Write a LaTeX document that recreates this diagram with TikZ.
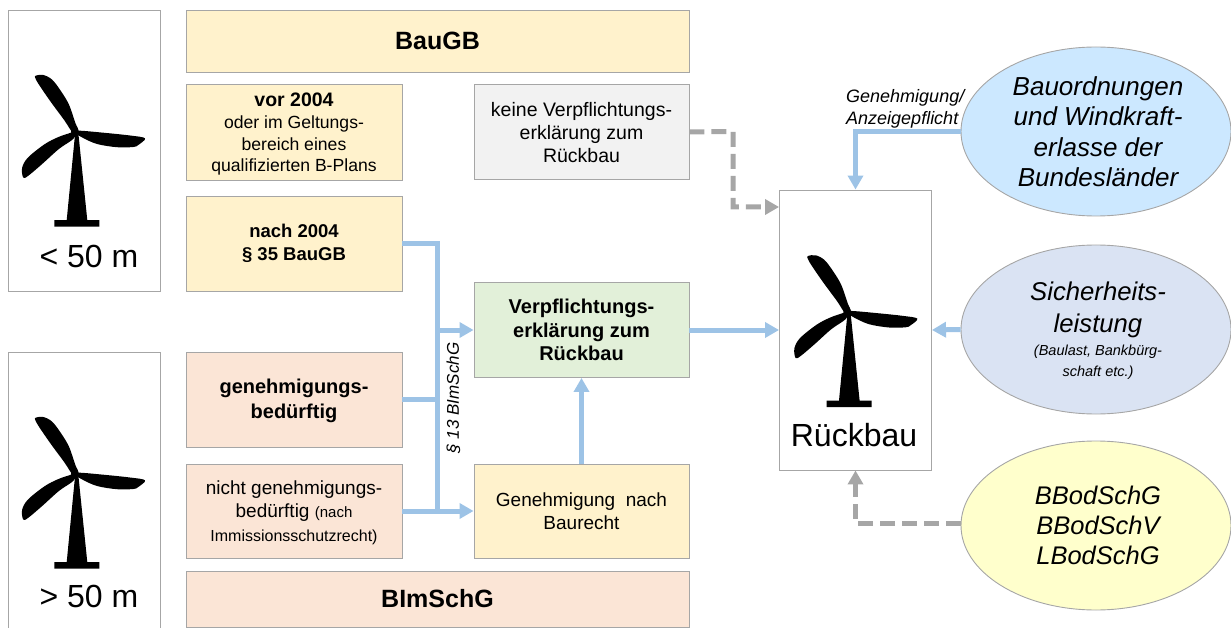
\documentclass[tikz,border=0pt]{standalone}
\usepackage{fontspec}
\setmainfont{Liberation Sans}
\usetikzlibrary{arrows.meta,shapes.geometric}
\definecolor{cyel}{HTML}{FFF2CC}
\definecolor{cpea}{HTML}{FBE5D6}
\definecolor{cgre}{HTML}{E2F0D9}
\definecolor{cgry}{HTML}{F2F2F2}
\definecolor{cedge}{HTML}{A6A6A6}
\definecolor{cblu}{HTML}{9DC3E6}
\definecolor{ce1}{HTML}{CCE8FF}
\definecolor{ce2}{HTML}{DAE3F3}
\definecolor{ce3}{HTML}{FFFFCC}
\newcommand{\fs}[1]{\fontsize{#1}{#1}\selectfont}
\newcommand{\fsl}[2]{\fontsize{#1}{#2}\selectfont}
\newcommand{\sh}{\hspace*{4pt}}
\tikzset{
 boxn/.style={draw=cedge,line width=0.9pt,align=center,inner sep=0pt,text=black},
 ell/.style={ellipse,draw=cedge,line width=0.9pt,minimum width=270pt,minimum height=169pt,align=center,inner sep=0pt},
 bluearrow/.style={draw=cblu,line width=5pt,-{Triangle[length=14pt,width=15pt]}},
 blueline/.style={draw=cblu,line width=5pt},
 greyarrow/.style={draw=cedge,line width=5pt,dash pattern=on 15pt off 7pt,-{Triangle[length=14pt,width=15pt]}},
 turbine/.pic={
  \fill[black] plot[smooth cycle,tension=0.55] coordinates {(-39.3,-55) (-31.7,-55.7) (-22.8,-51) (-14,-39.5) (-6,-26) (0.5,-7.4) (3.3,-0.7) (-1.7,2.6) (-10.5,-10.2) (-24,-28.5) (-35.5,-45.2) (-39.6,-52.4)};
  \fill[black] plot[smooth cycle,tension=0.55] coordinates {(70,7.6) (55,4.8) (28.3,2) (5,0) (-1,1) (6.7,6.5) (21.7,13.2) (41.7,16.5) (58.3,16.3) (63.3,14.3)};
  \fill[black] plot[smooth cycle,tension=0.55] coordinates {(-51.7,47) (-52.9,37.3) (-47.2,27) (-30.5,13.6) (-17,6.5) (-5,2.3) (1,0) (-1.5,8) (-16,18.2) (-32.7,33.2) (-46.4,44.8)};
  \fill[black] (0,1) circle (4);
  \fill[black] (0,4) -- (3.5,4) -- (12.3,89.5) -- (24.3,89.5) -- (24.3,96) -- (-20.7,96) -- (-20.7,89.5) -- (-8.3,89.5) -- cycle;
 }
}
\begin{document}
\begin{tikzpicture}[x=1pt,y=-1pt]
\useasboundingbox (0,0) rectangle (1231,628);
\clip (0,0) rectangle (1231,628);
% turbine frames
\node[boxn,minimum width=152pt,minimum height=281pt] (t1) at (84,150.5) {};
\node[boxn,minimum width=152pt,minimum height=290pt] (t2) at (84,497) {};
\pic at (75,130.7) {turbine};
\pic at (75,472.7) {turbine};
\node[inner sep=0pt,font=\fs{32}] (l1) at (89,256) {< 50 m};
\node[inner sep=0pt,font=\fs{32}] (l2) at (89,596) {> 50 m};
% boxes
\node[boxn,fill=cyel,minimum width=503pt,minimum height=62pt,font=\fs{25}\bfseries] (baugb) at (437.5,41) {\raisebox{1pt}{BauGB}};
\node[boxn,fill=cyel,minimum width=216pt,minimum height=96pt,font=\fsl{17.6}{21.7}] (vor) at (294,132) {\rule{0pt}{18pt}{\fs{19.5}\bfseries vor 2004}\\oder im Geltungs-\\bereich eines\\qualifizierten B-Plans};
\node[boxn,fill=cyel,minimum width=216pt,minimum height=95pt,font=\fsl{18.5}{23}\bfseries] (nach) at (294,243.5) {nach 2004\\§ 35 BauGB};
\node[boxn,fill=cpea,minimum width=216pt,minimum height=95pt,font=\fsl{20}{25}\bfseries] (gen) at (294,399.5) {\rule{0pt}{18pt}genehmigungs-\\bedürftig};
\node[boxn,fill=cpea,minimum width=216pt,minimum height=94pt,font=\fsl{19}{23.5}] (nicht) at (294,511) {\rule{0pt}{16.5pt}nicht genehmigungs-\\bedürftig {\fs{15}(nach}\\{\fs{16}Immissionsschutzrecht)}};
\node[boxn,fill=cpea,minimum width=503pt,minimum height=56pt,font=\fs{25}\bfseries] (bim) at (437.5,599) {\raisebox{-2pt}{BImSchG}};
\node[boxn,fill=cgry,minimum width=215pt,minimum height=95pt,font=\fsl{19.5}{23}] (keine) at (581.5,132) {\rule{0pt}{15pt}keine Verpflichtungs-\\erklärung zum\\Rückbau};
\node[boxn,fill=cgre,minimum width=215pt,minimum height=95pt,font=\fsl{20}{23.5}\bfseries] (verp) at (581.5,330) {Verpflichtungs-\\erklärung zum\\Rückbau};
\node[boxn,fill=cyel,minimum width=215pt,minimum height=94pt,font=\fsl{19}{23.5}] (bau) at (581.5,511) {Genehmigung\ \ nach\\Baurecht};
\node[boxn,minimum width=152pt,minimum height=280pt] (rb) at (855.5,330) {};
\pic at (847.3,311) {turbine};
\node[inner sep=0pt,font=\fs{32}] (rbl) at (854,435) {Rückbau};
% ellipses
\node[ell,fill=ce1,font=\fsl{26}{30.5}\itshape] (e1) at (1096,131.5) {\sh Bauordnungen\\\sh und Windkraft-\\\sh erlasse der\\\sh Bundesländer};
\node[ell,fill=ce2,font=\fsl{25.7}{32}\itshape] (e2) at (1096,329.5) {\sh\rule{0pt}{21pt}Sicherheits-\\\sh leistung\\[-9pt]\sh{\fs{14.5}(Baulast, Bankbürg-}\\[-11pt]\sh{\fs{14.5}schaft etc.)}};
\node[ell,fill=ce3,font=\fsl{25.5}{30}\itshape] (e3) at (1096,525.5) {\sh BBodSchG\\\sh BBodSchV\\\sh LBodSchG};
% connector junction points
\coordinate (jt) at (437,243.5);
\coordinate (jb) at (437,511);
\draw[blueline] (nach.east) -- (jt) -- (jb);
\draw[blueline] (gen.east) -- (gen.east -| jt);
\draw[bluearrow] (nicht.east) -- (bau.west);
\draw[bluearrow] (verp.west -| jt) -- (verp.west);
\draw[bluearrow] (bau.north) -- (verp.south);
\draw[bluearrow] (verp.east) -- (rb.west);
\draw[bluearrow] (e2.west) -- (rb.east);
\coordinate (kc) at (733,131.5);
\coordinate (kd) at (733,207);
\draw[greyarrow] (keine.east) -- (kc) -- (kd) -- (rb.west |- kd);
\draw[bluearrow] (e1.west) -| (rb.north);
\coordinate (ed) at (961,523);
\draw[greyarrow] (ed) -| (rb.south);
% labels
\node[inner sep=0pt,font=\fsl{18}{21.5}\itshape,align=left,anchor=west] (gl) at (846,109) {Genehmigung/\\Anzeigepflicht};
\node[inner sep=0pt,font=\fs{17}\itshape,rotate=90] (bl) at (453.5,398) {§ 13 BImSchG};
\end{tikzpicture}
\end{document}
